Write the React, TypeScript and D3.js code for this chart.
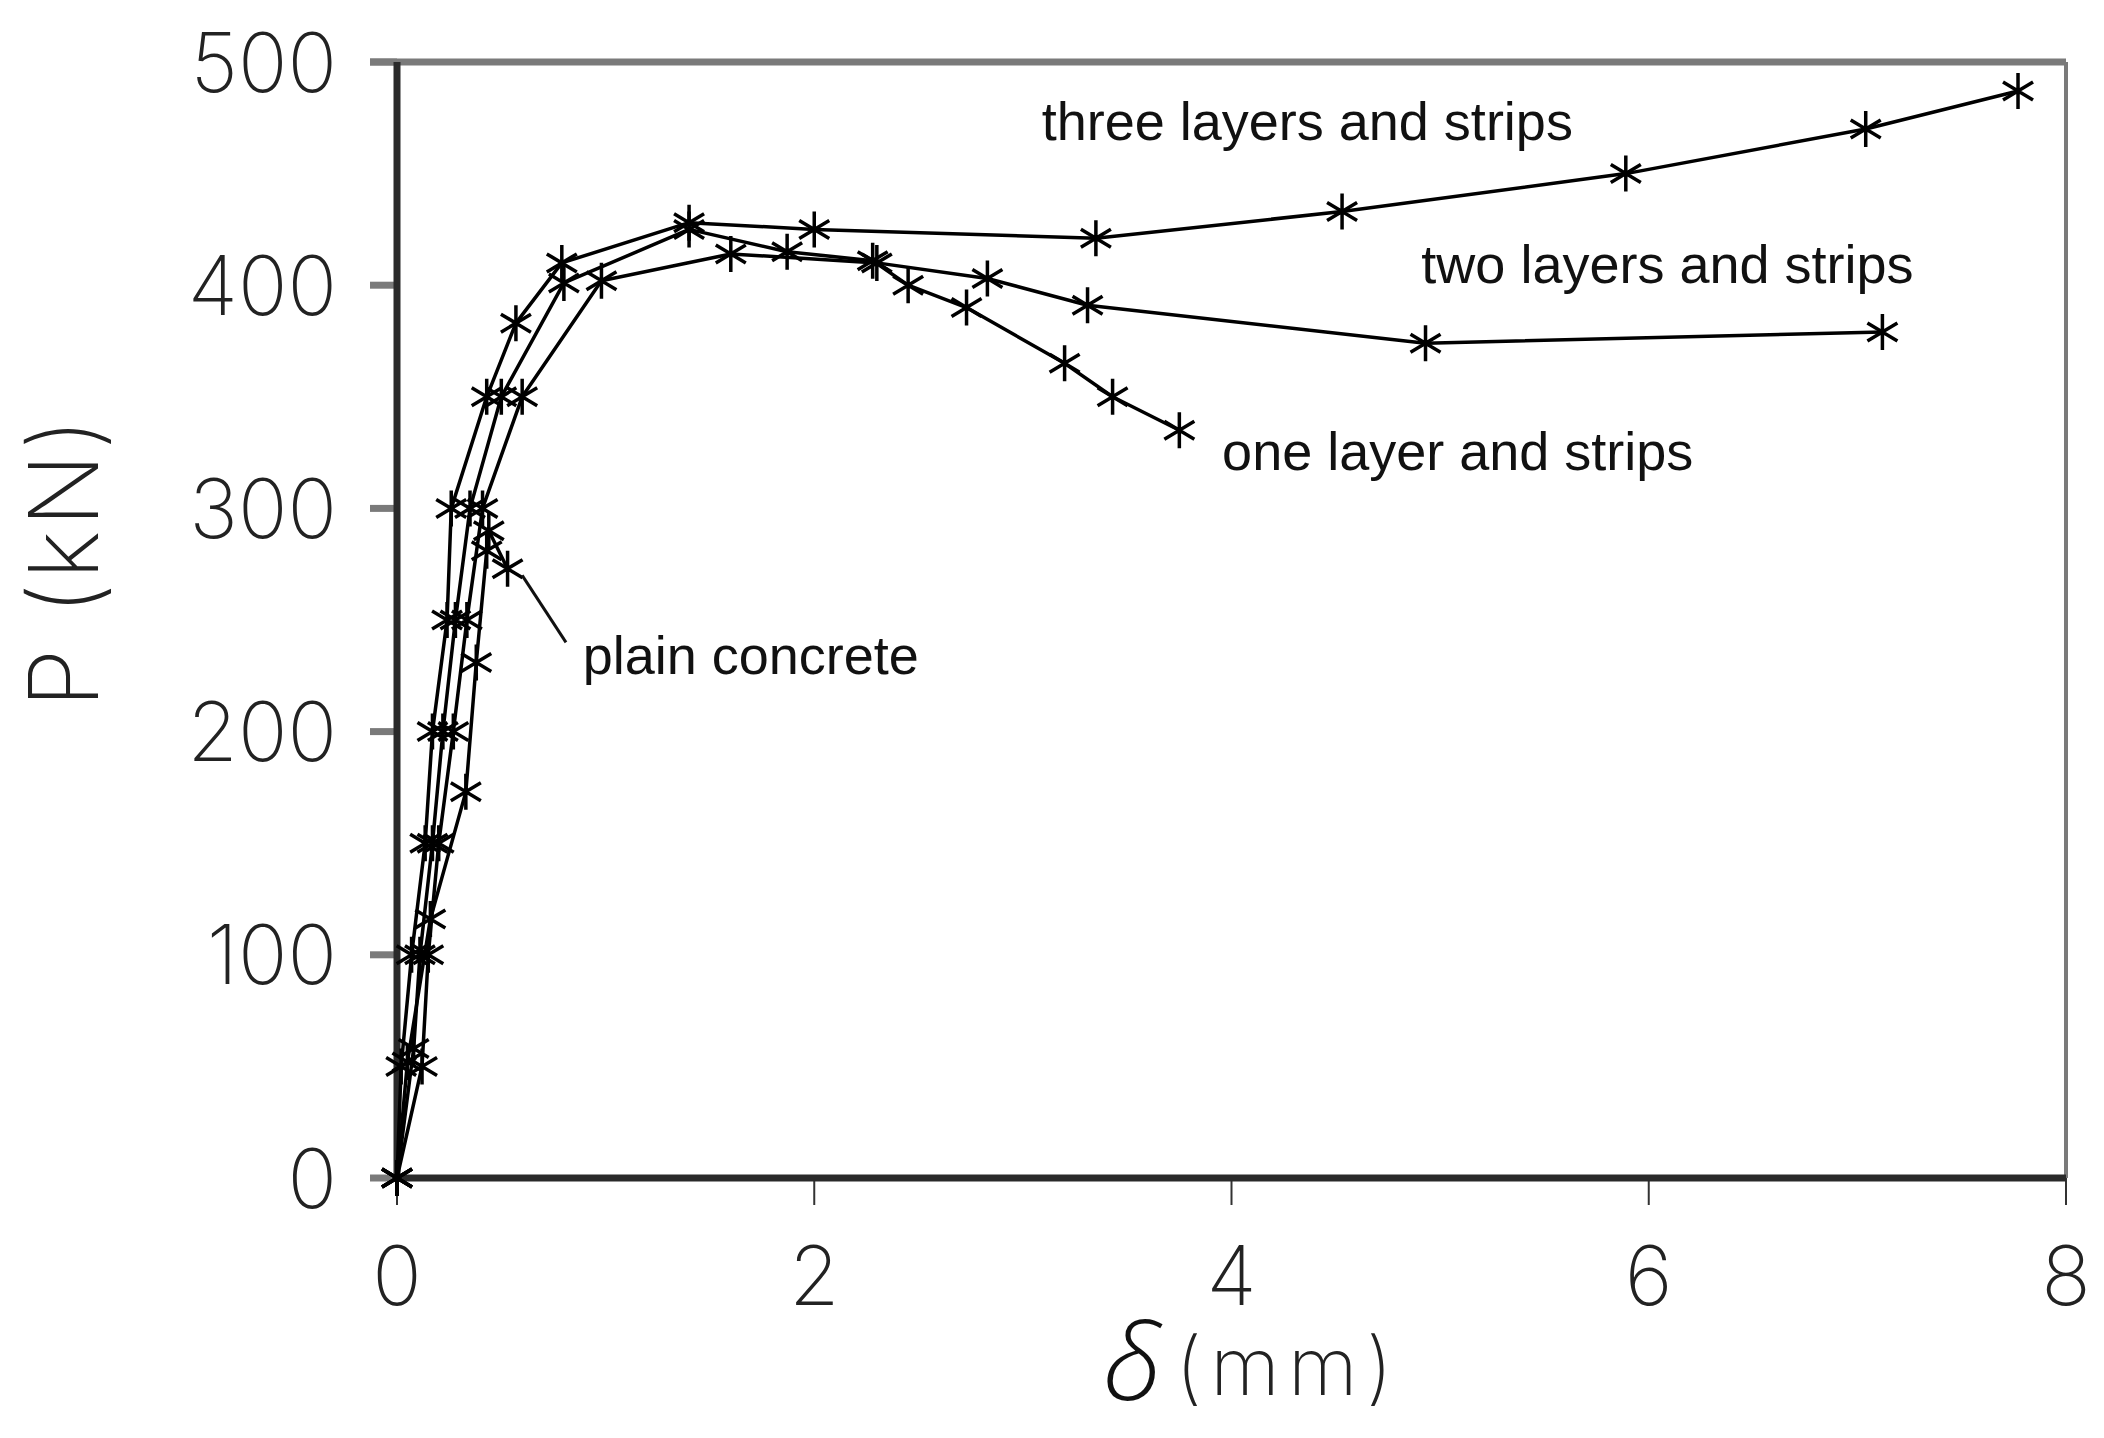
import React, { useEffect, useRef } from "react";
import * as d3 from "d3";

type Pt = [number, number]; // [delta mm, P kN]

// load-deflection curves
const threeLayers: Pt[] = [
    [0, 0], [0.02, 50], [0.07, 100], [0.135, 150], [0.17, 200], [0.24, 250], [0.26, 300],
    [0.43, 350], [0.57, 383], [0.79, 410], [1.4, 428], [2.0, 425], [3.35, 421],
    [4.53, 433], [5.89, 450], [7.04, 470], [7.77, 487],
];
const twoLayers: Pt[] = [
    [0, 0], [0.12, 50], [0.15, 100], [0.2, 150], [0.27, 200], [0.335, 250], [0.41, 300],
    [0.6, 350], [0.98, 402], [1.6, 414], [2.3, 410], [2.83, 403], [3.31, 391],
    [4.93, 374], [7.12, 379],
];
const oneLayer: Pt[] = [
    [0, 0], [0.08, 58], [0.11, 100], [0.17, 150], [0.22, 200], [0.28, 250], [0.35, 300],
    [0.5, 350], [0.8, 401], [1.4, 425], [1.87, 415], [2.28, 411], [2.45, 400],
    [2.73, 390], [3.2, 365], [3.43, 350], [3.75, 335],
];
const plainConcrete: Pt[] = [
    [0, 0], [0.05, 52], [0.16, 116], [0.33, 173], [0.38, 231], [0.43, 281], [0.44, 290], [0.53, 273],
];

const xTicks = [0, 2, 4, 6, 8];
const yTicks = [0, 100, 200, 300, 400, 500];

// curve labels, anchored in data units (left edge / baseline)
const curveLabels = [
    { text: "three layers and strips", d: 3.09, p: 465 },
    { text: "two layers and strips", d: 4.91, p: 401 },
    { text: "one layer and strips", d: 3.955, p: 317 },
    { text: "plain concrete", d: 0.89, p: 226 },
];
const pointer: Pt[] = [[0.6, 270], [0.81, 240]];

export default function App() {
    const svgRef = useRef<SVGSVGElement>(null);

    useEffect(() => {
        const root = d3.select(svgRef.current);
        root.selectAll("*").remove();

        const W = 2104, H = 1438;
        const margin = { top: 62, right: 38, bottom: 260, left: 397 };
        const width = W - margin.left - margin.right;
        const height = H - margin.top - margin.bottom;

        const xScale = d3.scaleLinear().domain([0, 8]).range([0, width]);
        const yScale = d3.scaleLinear().domain([0, 500]).range([height, 0]);

        const g = root.append("g").attr("transform", "translate(" + margin.left + "," + margin.top + ")");

        const tickLen = 27;
        const thinFont = "Inter, 'DejaVu Sans', sans-serif";

        // frame: grey top + right
        g.append("line")
            .attr("x1", -tickLen).attr("x2", width).attr("y1", 0).attr("y2", 0)
            .attr("stroke", "#7a7a7a").attr("stroke-width", 7);
        g.append("line")
            .attr("x1", width).attr("x2", width).attr("y1", 0).attr("y2", height)
            .attr("stroke", "#7a7a7a").attr("stroke-width", 4);

        // y ticks + labels
        g.selectAll(".ytick")
            .data(yTicks)
            .enter()
            .append("line")
            .attr("x1", -tickLen).attr("x2", 0)
            .attr("y1", d => yScale(d)).attr("y2", d => yScale(d))
            .attr("stroke", "#7a7a7a").attr("stroke-width", 7);
        g.selectAll(".ylab")
            .data(yTicks)
            .enter()
            .append("text")
            .attr("x", -60)
            .attr("y", d => yScale(d))
            .attr("dy", "0.36em")
            .attr("text-anchor", "end")
            .attr("font-family", thinFont)
            .attr("font-weight", 200)
            .attr("font-size", 82)
            .attr("fill", "#222")
            .text(d => d);

        // x ticks + labels
        g.selectAll(".xtick")
            .data(xTicks)
            .enter()
            .append("line")
            .attr("x1", d => xScale(d)).attr("x2", d => xScale(d))
            .attr("y1", height).attr("y2", height + tickLen)
            .attr("stroke", "#333").attr("stroke-width", 2);
        g.selectAll(".xlab")
            .data(xTicks)
            .enter()
            .append("text")
            .attr("x", d => xScale(d))
            .attr("y", height + 127)
            .attr("text-anchor", "middle")
            .attr("font-family", thinFont)
            .attr("font-weight", 200)
            .attr("font-size", 82)
            .attr("fill", "#222")
            .text(d => d);

        // dark left + bottom axis lines
        g.append("line")
            .attr("x1", 0).attr("x2", 0).attr("y1", 0).attr("y2", height)
            .attr("stroke", "#2a2a2a").attr("stroke-width", 7);
        g.append("line")
            .attr("x1", 0).attr("x2", width).attr("y1", height).attr("y2", height)
            .attr("stroke", "#2a2a2a").attr("stroke-width", 7);

        // axis titles
        g.append("text")
            .attr("transform", "translate(" + (98 - margin.left) + "," + (563 - margin.top) + ") rotate(-90)")
            .attr("text-anchor", "middle")
            .attr("font-family", thinFont)
            .attr("font-weight", 200)
            .attr("font-size", 96)
            .attr("textLength", 290)
            .attr("lengthAdjust", "spacing")
            .attr("fill", "#222")
            .text("P (kN)");

        const xTitleX = xScale(4);
        g.append("text")
            .attr("x", xTitleX - 128)
            .attr("y", height + 222)
            .attr("font-family", "'Open Sans', 'Noto Sans', sans-serif")
            .attr("font-style", "italic")
            .attr("font-weight", 300)
            .attr("font-size", 106)
            .attr("fill", "#111")
            .text("δ");
        g.append("text")
            .attr("x", xTitleX - 56)
            .attr("y", height + 217)
            .attr("font-family", thinFont)
            .attr("font-weight", 200)
            .attr("font-size", 80)
            .attr("textLength", 217)
            .attr("lengthAdjust", "spacing")
            .attr("fill", "#222")
            .text("(mm)");

        // series
        const line = d3
            .line<Pt>()
            .x(d => xScale(d[0]))
            .y(d => yScale(d[1]));

        const star = "M0,-18V18M-15,-9L15,9M-15,9L15,-9";
        const allSeries = [plainConcrete, oneLayer, twoLayers, threeLayers];

        allSeries.forEach(series => {
            g.append("path")
                .datum(series)
                .attr("d", line)
                .attr("fill", "none")
                .attr("stroke", "#000")
                .attr("stroke-width", 3.5)
                .attr("stroke-linejoin", "round");
        });
        allSeries.forEach(series => {
            g.selectAll(null)
                .data(series)
                .enter()
                .append("path")
                .attr("d", star)
                .attr("transform", d => "translate(" + xScale(d[0]) + "," + yScale(d[1]) + ")")
                .attr("fill", "none")
                .attr("stroke", "#000")
                .attr("stroke-width", 3.5);
        });

        // labels
        g.append("path")
            .datum(pointer)
            .attr("d", line)
            .attr("stroke", "#111")
            .attr("stroke-width", 3);
        g.selectAll(".clab")
            .data(curveLabels)
            .enter()
            .append("text")
            .attr("x", d => xScale(d.d))
            .attr("y", d => yScale(d.p))
            .attr("font-family", "'Liberation Sans', Arial, sans-serif")
            .attr("font-size", 54)
            .attr("fill", "#111")
            .text(d => d.text);
    }, []);

    return (
        <svg
            ref={svgRef}
            width={2104}
            height={1438}
            style={{ position: "absolute", left: 0, top: 0, background: "#fff" }}
        />
    );
}
